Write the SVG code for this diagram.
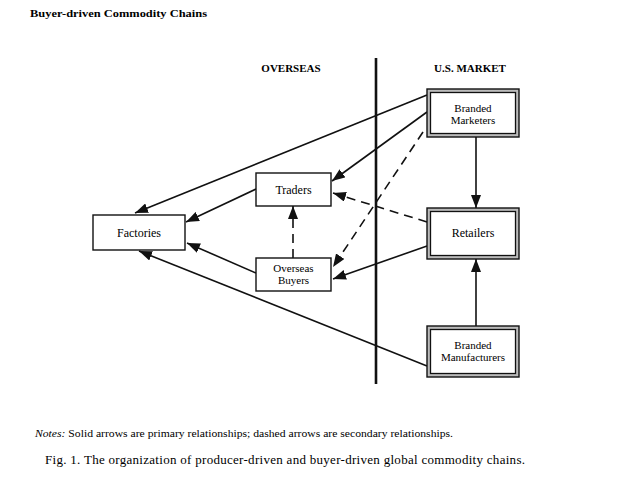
<svg xmlns="http://www.w3.org/2000/svg" width="636" height="477" viewBox="0 0 636 477">
<style>
.t{font-family:"Liberation Serif","Times New Roman",serif;fill:#000}
.lbl{font-size:12px;text-anchor:middle}
.l2{font-size:11px;text-anchor:middle}
.hd{font-size:11px;font-weight:bold;text-anchor:middle}
.box{fill:#fff;stroke:#111;stroke-width:1.4}
.dout{fill:#bbb;stroke:#111;stroke-width:1.4}
.din{fill:#fff;stroke:#111;stroke-width:1.3}
.c{fill:none;stroke:#111;stroke-width:1.6;marker-end:url(#ah)}
.d{stroke-dasharray:9 6}
</style>
<defs>
<marker id="ah" markerUnits="userSpaceOnUse" markerWidth="14" markerHeight="10" refX="13" refY="5" orient="auto">
<path d="M0,0 L13,5 L0,10 z" fill="#111"/>
</marker>
</defs>
<rect width="636" height="477" fill="#fff"/>
<text class="t" x="30" y="17" font-size="11" font-weight="bold" textLength="177" lengthAdjust="spacingAndGlyphs">Buyer-driven Commodity Chains</text>
<text class="t hd" x="291" y="72">OVERSEAS</text>
<text class="t hd" x="470" y="72">U.S. MARKET</text>
<line x1="376" y1="58" x2="376" y2="384" stroke="#111" stroke-width="2.6"/>
<g id="connectors">
<line class="c" x1="427" y1="95" x2="135" y2="213"/>
<line class="c" x1="427" y1="112" x2="332" y2="181"/>
<line class="c d" x1="423" y1="132" x2="333" y2="267"/>
<line class="c d" x1="427" y1="222" x2="333" y2="193"/>
<line class="c" x1="427" y1="246" x2="333" y2="279"/>
<line class="c" x1="256" y1="189" x2="186" y2="222"/>
<line class="c" x1="256" y1="273" x2="187" y2="243"/>
<line class="c d" x1="293" y1="258" x2="293" y2="206"/>
<line class="c" x1="427" y1="366" x2="139" y2="251"/>
<line class="c" x1="476" y1="137" x2="476" y2="208"/>
<line class="c" x1="476" y1="326" x2="476" y2="259"/>
</g>
<g id="factories">
<rect class="box" x="93" y="215" width="92" height="35"/>
<text class="t lbl" x="139" y="237">Factories</text>
</g>
<g id="traders">
<rect class="box" x="256" y="173" width="75" height="33"/>
<text class="t lbl" x="293.5" y="194">Traders</text>
</g>
<g id="overseas-buyers">
<rect class="box" x="256" y="258" width="75" height="33"/>
<text class="t l2" x="293.5" y="271.5">Overseas</text>
<text class="t l2" x="293.5" y="284">Buyers</text>
</g>
<g id="branded-marketers">
<rect class="dout" x="427" y="89" width="92" height="48"/>
<rect class="din" x="430.5" y="92.5" width="85" height="41"/>
<text class="t l2" x="473" y="111.5">Branded</text>
<text class="t l2" x="473" y="124">Marketers</text>
</g>
<g id="retailers">
<rect class="dout" x="427" y="208" width="92" height="51"/>
<rect class="din" x="430.5" y="211.5" width="85" height="44"/>
<text class="t lbl" x="473" y="237">Retailers</text>
</g>
<g id="branded-manufacturers">
<rect class="dout" x="427" y="326" width="92" height="51"/>
<rect class="din" x="430.5" y="329.5" width="85" height="44"/>
<text class="t l2" x="473" y="348.5">Branded</text>
<text class="t l2" x="473" y="361">Manufacturers</text>
</g>
<text class="t" x="35" y="437" font-size="11" textLength="418" lengthAdjust="spacingAndGlyphs"><tspan font-style="italic">Notes:</tspan>  Solid arrows are primary relationships; dashed arrows are secondary relationships.</text>
<text class="t" x="45" y="464" font-size="13" textLength="480" lengthAdjust="spacing">Fig. 1. The organization of producer-driven and buyer-driven global commodity chains.</text>
</svg>
